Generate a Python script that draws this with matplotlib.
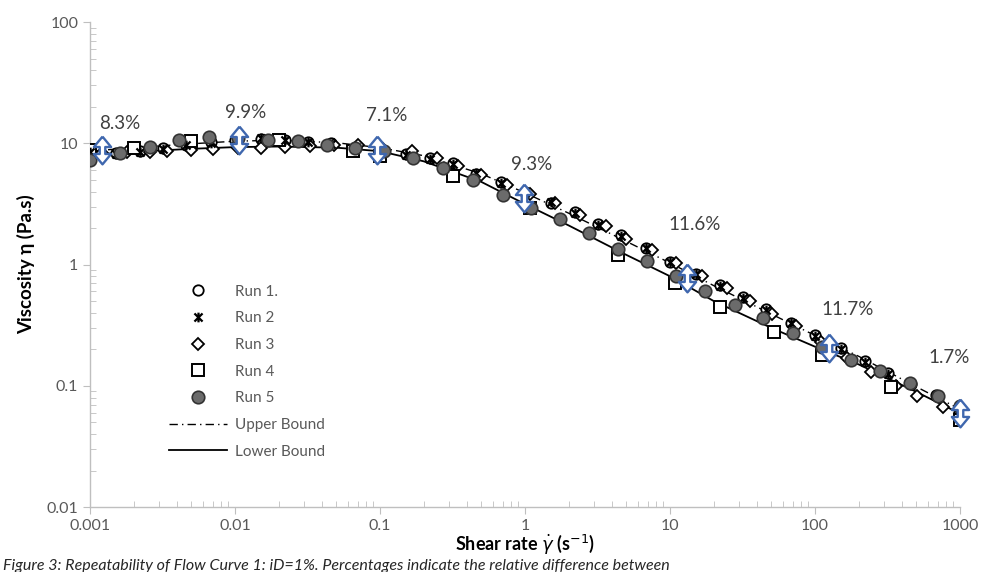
import matplotlib
matplotlib.use("Agg")
import matplotlib.pyplot as plt
from matplotlib.path import Path
from matplotlib.ticker import FixedLocator, LogLocator, NullFormatter

plt.rcParams['font.family'] = ['Lato', 'DejaVu Sans']
plt.rcParams['mathtext.fontset'] = 'dejavusans'

# Run 1 / Run 2 (same shear rate steps)
shear_12 = [0.001, 0.0015, 0.0022, 0.0032, 0.0046, 0.0068, 0.01, 0.015, 0.022, 0.032, 0.046, 0.068,
            0.1, 0.15, 0.22, 0.32, 0.46, 0.68, 1.0, 1.5, 2.2, 3.2, 4.6, 6.8, 10, 15, 22, 32, 46, 68,
            100, 150, 220, 320, 460, 680, 1000]
run1 = [8.7, 8.3, 8.6, 9.1, 9.6, 10.2, 10.7, 10.9, 10.7, 10.3, 10.0, 9.4,
        8.8, 8.1, 7.6, 6.9, 5.6, 4.8, 4.0, 3.2, 2.7, 2.15, 1.75, 1.38, 1.05, 0.84, 0.68, 0.54, 0.43, 0.33,
        0.26, 0.205, 0.16, 0.127, 0.104, 0.084, 0.066]
run2 = [8.5, 8.1, 8.5, 9.0, 9.7, 10.1, 10.6, 11.0, 10.6, 10.2, 9.9, 9.3,
        8.7, 8.0, 7.4, 6.8, 5.7, 4.7, 3.9, 3.25, 2.65, 2.1, 1.72, 1.36, 1.04, 0.83, 0.67, 0.53, 0.42, 0.33,
        0.255, 0.2, 0.158, 0.125, 0.102, 0.082, 0.064]

shear_3 = [0.0012, 0.0018, 0.0026, 0.0034, 0.005, 0.0071, 0.0105, 0.015, 0.022, 0.033, 0.048, 0.07,
           0.105, 0.166, 0.248, 0.345, 0.5, 0.75, 1.08, 1.6, 2.4, 3.6, 5.0, 7.5, 11, 16.5, 24.6, 35.5,
           50.7, 73.6, 110, 165, 243, 362, 507, 765, 1000]
run3 = [8.3, 8.4, 8.5, 8.6, 8.8, 8.9, 9.1, 9.2, 9.3, 9.5, 9.7, 9.6,
        9.0, 8.6, 7.5, 6.5, 5.45, 4.5, 3.8, 3.2, 2.55, 2.07, 1.62, 1.33, 1.03, 0.8, 0.64, 0.5,
        0.39, 0.31, 0.23, 0.17, 0.129, 0.1, 0.082, 0.067, 0.06]

shear_4 = [0.001, 0.002, 0.005, 0.02, 0.065, 0.1, 0.32, 1.08, 4.4, 10.9, 22, 52, 111, 336, 1000]
run4 = [8.8, 9.2, 10.5, 10.6, 8.6, 7.8, 5.35, 2.91, 1.19, 0.70, 0.45, 0.276, 0.18, 0.098, 0.052]

shear_5 = [0.001, 0.0016, 0.0026, 0.0041, 0.0066, 0.0105, 0.017, 0.027, 0.043, 0.067, 0.107, 0.17,
           0.27, 0.44, 0.7, 1.1, 1.75, 2.75, 4.4, 6.9, 11, 17.5, 28, 44, 70, 112, 178, 280, 450, 710, 1000]
run5 = [7.3, 8.3, 9.3, 10.6, 11.2, 11.0, 10.6, 10.4, 9.6, 9.1, 8.6, 7.5,
        6.2, 4.96, 3.73, 2.9, 2.37, 1.81, 1.34, 1.07, 0.80, 0.61, 0.46, 0.36, 0.27, 0.21, 0.163, 0.133,
        0.105, 0.083, 0.068]

# bounds
shear_bound = [0.001, 0.002, 0.005, 0.01, 0.02, 0.05, 0.1, 0.2, 0.5, 1, 2, 5, 10, 20, 50, 100, 200, 500, 1000]
upper_bound = [8.6, 9.2, 9.9, 10.4, 10.6, 10.1, 9.2, 7.9, 5.6, 3.9, 2.65, 1.55, 1.03, 0.67, 0.39, 0.26,
               0.175, 0.098, 0.064]
lower_bound = [8.0, 8.5, 9.0, 9.3, 9.4, 9.2, 8.6, 7.1, 4.8, 3.15, 2.1, 1.2, 0.8, 0.5, 0.3, 0.21,
               0.15, 0.089, 0.059]

# relative differences
diff_shear = [0.00121, 0.0106, 0.0954, 0.99, 13.0, 125, 1000]
diff_visc = [8.76, 10.6, 8.76, 3.52, 0.77, 0.204, 0.060]
diff_labels = ["8.3%", "9.9%", "7.1%", "9.3%", "11.6%", "11.7%", "1.7%"]
label_offsets = [(13, 19), (5, 20), (7, 25), (5, 24), (6, 39), (13, 28), (-8, 40)]  # points

fig = plt.figure(figsize=(9.96, 5.72), dpi=100)
ax = fig.add_axes([0.0904, 0.1136, 0.8735, 0.8479])

ax.plot(shear_bound, upper_bound, color='black', lw=1.0, ls=(0, (6, 3, 1, 3)), label='Upper Bound', zorder=2)
ax.plot(shear_bound, lower_bound, color='black', lw=1.3, ls='-', label='Lower Bound', zorder=2)

star = Path([(-1, -1), (1, 1), (-1, 1), (1, -1), (0, 1.2), (0, -1.2)],
            [Path.MOVETO, Path.LINETO, Path.MOVETO, Path.LINETO, Path.MOVETO, Path.LINETO])

h1, = ax.plot(shear_12, run1, ls='none', marker='o', ms=7.5, mfc='white', mec='black', mew=1.3, label='Run 1.', zorder=3)
h2, = ax.plot(shear_12, run2, ls='none', marker=star, ms=7, mec='black', mew=1.6, label='Run 2', zorder=4)
h3, = ax.plot(shear_3, run3, ls='none', marker='D', ms=6, mfc='white', mec='black', mew=1.3, label='Run 3', zorder=3)
h4, = ax.plot(shear_4, run4, ls='none', marker='s', ms=8, mfc='white', mec='black', mew=1.4, label='Run 4', zorder=3)
h5, = ax.plot(shear_5, run5, ls='none', marker='o', ms=9, mfc='#6b6b6b', mec='#333333', mew=1.2, label='Run 5', zorder=4)

# up-down arrows
updown = Path([(0, 1), (0.62, 0.25), (0.2, 0.25), (0.2, -0.25), (0.62, -0.25), (0, -1),
               (-0.62, -0.25), (-0.2, -0.25), (-0.2, 0.25), (-0.62, 0.25), (0, 1)])
ax.plot(diff_shear, diff_visc, ls='none', marker=updown, ms=20, mfc='white', mec='#3F67AE', mew=1.7,
        zorder=6, clip_on=False)

for x, y, t, off in zip(diff_shear, diff_visc, diff_labels, label_offsets):
    ax.annotate(t, (x, y), xytext=off, textcoords='offset points', ha='center', va='center',
                fontsize=13.5, color='#404040')

ax.set_xscale('log')
ax.set_yscale('log')
ax.set_xlim(0.001, 1000)
ax.set_ylim(0.01, 100)

for s in ['top', 'right']:
    ax.spines[s].set_visible(False)
for s in ['left', 'bottom']:
    ax.spines[s].set_color('#bfbfbf')
    ax.spines[s].set_linewidth(1.0)

ax.xaxis.set_major_locator(FixedLocator([0.001, 0.01, 0.1, 1, 10, 100, 1000]))
ax.set_xticklabels(['0.001', '0.01', '0.1', '1', '10', '100', '1000'])
ax.yaxis.set_major_locator(FixedLocator([0.01, 0.1, 1, 10, 100]))
ax.set_yticklabels(['0.01', '0.1', '1', '10', '100'])
ax.xaxis.set_minor_locator(LogLocator(base=10, subs=range(2, 10)))
ax.yaxis.set_minor_locator(LogLocator(base=10, subs=range(2, 10)))
ax.xaxis.set_minor_formatter(NullFormatter())
ax.yaxis.set_minor_formatter(NullFormatter())
ax.tick_params(which='major', direction='out', length=5, color='#bfbfbf', labelcolor='#595959', labelsize=11.5)
ax.tick_params(which='minor', direction='in', length=4, color='#bfbfbf')

ax.set_xlabel(r'Shear rate $\dot{\gamma}$ (s$^{-1}$)', fontsize=13, fontweight='bold', labelpad=0)
ax.set_ylabel('Viscosity η (Pa.s)', fontsize=13.5, fontweight='bold', labelpad=8)

handles = [h1, h2, h3, h4, h5] + ax.get_lines()[:2]
ax.legend(handles=handles, loc='upper left', bbox_to_anchor=(0.075, 0.487), frameon=False,
          fontsize=11, labelcolor='#595959', handlelength=3.8, handletextpad=0.5, labelspacing=0.83)

fig.text(0.003, 0.003, 'Figure 3: Repeatability of Flow Curve 1: iD=1%. Percentages indicate the relative difference between',
         fontsize=11.5, style='italic', color='#262626', ha='left', va='baseline')

fig.savefig('out.png', dpi=100)
